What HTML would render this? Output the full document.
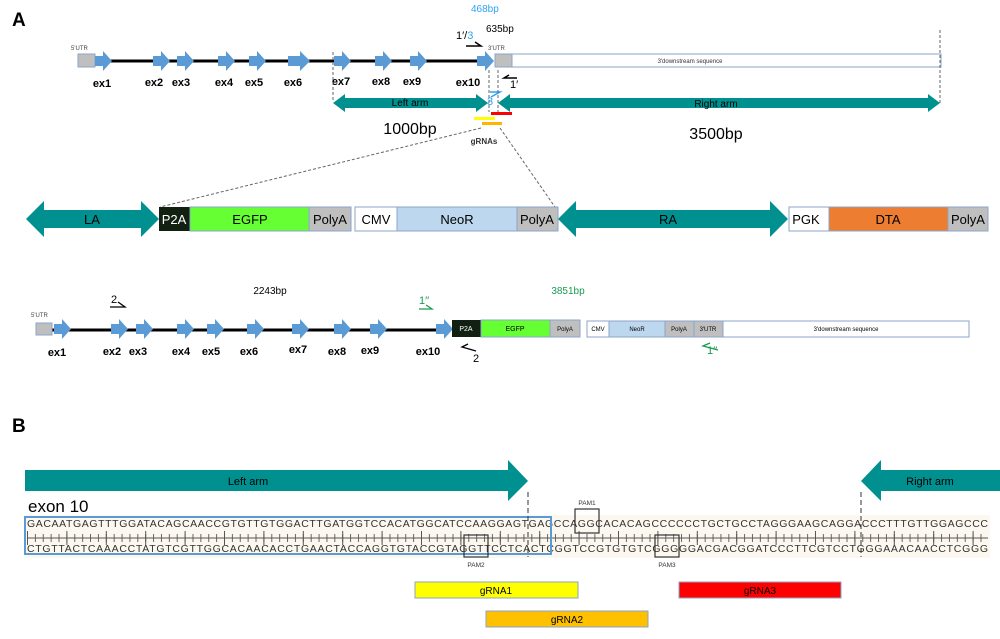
<!DOCTYPE html>
<html><head><meta charset="utf-8"><style>
html,body{margin:0;padding:0;background:#fff;}
svg{display:block;font-family:"Liberation Sans",sans-serif;}
</style></head><body>
<svg width="1000" height="639" viewBox="0 0 1000 639" xmlns="http://www.w3.org/2000/svg">
<defs>
<polygon id="ex" points="0,-5 8,-5 8,-10 17,0 8,10 8,5 0,5" fill="#5b9bd5"/>
<pattern id="tk" x="27" y="0" width="7.88" height="10" patternUnits="userSpaceOnUse"><rect x="0" y="0" width="1" height="10" fill="#666"/></pattern>
<pattern id="tk2" x="27" y="0" width="39.4" height="14" patternUnits="userSpaceOnUse"><rect x="0" y="0" width="1" height="14" fill="#555"/></pattern>
</defs>

<!-- A -->
<text x="12" y="26" font-size="19" font-weight="bold">A</text>
<text x="471" y="12" font-size="10" fill="#2ea3f2">468bp</text>
<text x="486" y="32" font-size="10">635bp</text>
<text x="456" y="39" font-size="11">1′/<tspan fill="#2ea3f2">3</tspan></text>
<polyline points="466,46 481,46 475,42" fill="none" stroke="#000" stroke-width="1.5"/>
<text x="488" y="50" font-size="6" fill="#444">3'UTR</text>
<text x="71" y="50" font-size="6" fill="#444">5'UTR</text>
<line x1="93" y1="61" x2="480" y2="61" stroke="#000" stroke-width="3"/>
<rect x="78" y="54" width="17" height="13" fill="#bfbfbf" stroke="#8aa6c8"/>
<use href="#ex" x="95" y="61"/>
<use href="#ex" x="153" y="61"/>
<use href="#ex" x="177" y="61"/>
<use href="#ex" x="218" y="61"/>
<use href="#ex" x="249" y="61"/>
<polygon points="288,56 300,56 300,51 310,61 300,71 300,66 288,66" fill="#5b9bd5"/>
<use href="#ex" x="334" y="61"/>
<use href="#ex" x="375" y="61"/>
<use href="#ex" x="410" y="61"/>
<use href="#ex" x="477" y="61"/>
<rect x="495" y="54" width="17" height="13" fill="#bfbfbf" stroke="#8aa6c8"/>
<rect x="512" y="54" width="429" height="13" fill="#fff" stroke="#8aa6c8"/>
<text x="690" y="63" font-size="6" text-anchor="middle" fill="#333">3'downstream sequence</text>
<g font-size="11" font-weight="bold" text-anchor="middle">
<text x="102" y="87">ex1</text><text x="154" y="86">ex2</text><text x="181" y="86">ex3</text>
<text x="224" y="86">ex4</text><text x="254" y="86">ex5</text><text x="293" y="86">ex6</text>
<text x="341" y="85">ex7</text><text x="381" y="85">ex8</text><text x="412" y="85">ex9</text>
<text x="468" y="86">ex10</text></g>
<polyline points="517,78 504,78 509,75" fill="none" stroke="#000" stroke-width="1.5"/>
<text x="510" y="88" font-size="11">1′</text>
<polyline points="490,92 500,92 491,97" fill="none" stroke="#2ea3f2" stroke-width="1.5"/>
<text x="487" y="105" font-size="11" fill="#2ea3f2">3</text>
<g stroke="#666" stroke-dasharray="3,2" stroke-width="1">
<line x1="333" y1="52" x2="333" y2="102"/><line x1="489" y1="70" x2="489" y2="112"/>
<line x1="498" y1="70" x2="498" y2="112"/><line x1="940" y1="30" x2="940" y2="103"/>
<line x1="481" y1="128" x2="160" y2="207"/><line x1="500" y1="128" x2="555" y2="207"/>
</g>
<polygon points="333,103 345,94 345,98 476,98 476,94 488,103 476,112 476,108 345,108 345,112" fill="#009090"/>
<text x="410" y="106" font-size="10" text-anchor="middle">Left arm</text>
<polygon points="498,103 510,94 510,98 928,98 928,94 940,103 928,112 928,108 510,108 510,112" fill="#009090"/>
<text x="716" y="107" font-size="10" text-anchor="middle">Right arm</text>
<text x="410" y="134" font-size="16" text-anchor="middle">1000bp</text>
<text x="716" y="139" font-size="16" text-anchor="middle">3500bp</text>
<rect x="491" y="112" width="21" height="3" fill="#f00"/>
<rect x="474" y="117" width="21" height="3" fill="#ff0"/>
<rect x="482" y="122" width="20" height="3" fill="#ffb400"/>
<text x="484" y="144" font-size="8" font-weight="bold" text-anchor="middle" fill="#333">gRNAs</text>

<!-- cassette -->
<polygon points="26,219 44,201 44,210 141,210 141,201 159,219 141,237 141,228 44,228 44,237" fill="#009090"/>
<text x="92" y="224" font-size="13" text-anchor="middle">LA</text>
<rect x="159" y="207" width="31" height="24" fill="#122012"/>
<text x="174" y="224" font-size="13" fill="#fff" text-anchor="middle">P2A</text>
<rect x="190" y="207" width="119" height="24" fill="#66ff33" stroke="#8aa6c8"/>
<text x="250" y="224" font-size="13" text-anchor="middle">EGFP</text>
<rect x="309" y="207" width="42" height="24" fill="#bfbfbf" stroke="#8aa6c8"/>
<text x="330" y="224" font-size="13" text-anchor="middle">PolyA</text>
<rect x="355" y="207" width="42" height="24" fill="#fff" stroke="#8aa6c8"/>
<text x="376" y="224" font-size="13" text-anchor="middle">CMV</text>
<rect x="397" y="207" width="120" height="24" fill="#bdd7ee" stroke="#8aa6c8"/>
<text x="457" y="224" font-size="13" text-anchor="middle">NeoR</text>
<rect x="517" y="207" width="41" height="24" fill="#bfbfbf" stroke="#8aa6c8"/>
<text x="537" y="224" font-size="13" text-anchor="middle">PolyA</text>
<polygon points="558,219 576,201 576,210 770,210 770,201 788,219 770,237 770,228 576,228 576,237" fill="#009090"/>
<text x="668" y="224" font-size="13" text-anchor="middle">RA</text>
<rect x="789" y="207" width="40" height="24" fill="#fff" stroke="#8aa6c8"/>
<text x="806" y="224" font-size="13" text-anchor="middle">PGK</text>
<rect x="829" y="207" width="119" height="24" fill="#ed7d31" stroke="#8aa6c8"/>
<text x="888" y="224" font-size="13" text-anchor="middle">DTA</text>
<rect x="948" y="207" width="40" height="24" fill="#bfbfbf" stroke="#8aa6c8"/>
<text x="968" y="224" font-size="13" text-anchor="middle">PolyA</text>

<!-- third row -->
<text x="270" y="294" font-size="10" text-anchor="middle">2243bp</text>
<text x="568" y="294" font-size="10" text-anchor="middle" fill="#1a9a50">3851bp</text>
<text x="111" y="303" font-size="11">2</text>
<polyline points="110,307 125,307 118,302" fill="none" stroke="#000" stroke-width="1.3"/>
<text x="419" y="304" font-size="11" fill="#1a9a50">1′′</text>
<polyline points="419,309 432,309 426,305" fill="none" stroke="#1a9a50" stroke-width="1.3"/>
<text x="31" y="317" font-size="6" fill="#444">5'UTR</text>
<line x1="52" y1="330" x2="440" y2="330" stroke="#000" stroke-width="3"/>
<rect x="36" y="323" width="16" height="12" fill="#bfbfbf" stroke="#8aa6c8"/>
<g>
<use href="#ex" x="54" y="329"/><use href="#ex" x="111" y="329"/><use href="#ex" x="136" y="329"/>
<use href="#ex" x="177" y="329"/><use href="#ex" x="207" y="329"/><use href="#ex" x="247" y="329"/>
<use href="#ex" x="292" y="329"/><use href="#ex" x="334" y="329"/><use href="#ex" x="370" y="329"/>
<use href="#ex" x="436" y="329"/></g>
<g font-size="11" font-weight="bold" text-anchor="middle">
<text x="57" y="356">ex1</text><text x="112" y="355">ex2</text><text x="138" y="355">ex3</text>
<text x="181" y="355">ex4</text><text x="211" y="355">ex5</text><text x="249" y="355">ex6</text>
<text x="298" y="353">ex7</text><text x="337" y="355">ex8</text><text x="370" y="354">ex9</text>
<text x="428" y="355">ex10</text></g>
<rect x="452" y="320" width="29" height="17" fill="#122012"/>
<text x="466" y="331" font-size="7" fill="#fff" text-anchor="middle">P2A</text>
<rect x="481" y="320" width="69" height="17" fill="#66ff33" stroke="#8aa6c8"/>
<text x="515" y="331" font-size="7" text-anchor="middle">EGFP</text>
<rect x="550" y="320" width="30" height="17" fill="#bfbfbf" stroke="#8aa6c8"/>
<text x="565" y="331" font-size="6" text-anchor="middle">PolyA</text>
<rect x="587" y="321" width="22" height="16" fill="#fff" stroke="#8aa6c8"/>
<text x="598" y="331" font-size="6" text-anchor="middle">CMV</text>
<rect x="609" y="321" width="56" height="16" fill="#bdd7ee" stroke="#8aa6c8"/>
<text x="637" y="331" font-size="6" text-anchor="middle">NeoR</text>
<rect x="665" y="321" width="29" height="16" fill="#bfbfbf" stroke="#8aa6c8"/>
<text x="679" y="331" font-size="6" text-anchor="middle">PolyA</text>
<rect x="694" y="321" width="29" height="16" fill="#bfbfbf" stroke="#8aa6c8"/>
<text x="708" y="331" font-size="6" text-anchor="middle">3'UTR</text>
<rect x="723" y="321" width="246" height="16" fill="#fff" stroke="#8aa6c8"/>
<text x="846" y="331" font-size="6" text-anchor="middle">3'downstream sequence</text>
<polyline points="476,351 462,347 468,344" fill="none" stroke="#000" stroke-width="1.3"/>
<text x="473" y="362" font-size="11">2</text>
<polyline points="718,350 703,346 710,343" fill="none" stroke="#1a9a50" stroke-width="1.3"/>
<text x="707" y="354" font-size="11" fill="#1a9a50">1′′</text>

<!-- B -->
<text x="12" y="432" font-size="19" font-weight="bold">B</text>
<polygon points="25,470 508,470 508,460 528,481 508,501 508,491 25,491" fill="#009090"/>
<text x="248" y="485" font-size="11" text-anchor="middle">Left arm</text>
<polygon points="1000,470 881,470 881,460 861,481 881,501 881,491 1000,491" fill="#009090"/>
<text x="930" y="485" font-size="11" text-anchor="middle">Right arm</text>
<text x="28" y="512" font-size="17">exon 10</text>
<rect x="25" y="515" width="965" height="43" fill="#fdf8ef"/>
<rect x="27" y="534" width="961" height="8" fill="url(#tk)"/>
<rect x="27" y="531" width="961" height="14" fill="url(#tk2)"/>
<line x1="27" y1="538" x2="988" y2="538" stroke="#555" stroke-width="1"/>
<g font-size="10.5" fill="#333" font-family="Liberation Sans,sans-serif">
<text x="27" y="527" textLength="961" lengthAdjust="spacing">GACAATGAGTTTGGATACAGCAACCGTGTTGTGGACTTGATGGTCCACATGGCATCCAAGGAGTGAGCCAGGCACACAGCCCCCCTGCTGCCTAGGGAAGCAGGACCCTTTGTTGGAGCCC</text>
<text x="27" y="552" textLength="961" lengthAdjust="spacing">CTGTTACTCAAACCTATGTCGTTGGCACAACACCTGAACTACCAGGTGTACCGTAGGTTCCTCACTCGGTCCGTGTGTCGGGGGACGACGGATCCCTTCGTCCTGGGAAACAACCTCGGG</text>
</g>
<rect x="25" y="517" width="526" height="37" fill="none" stroke="#5b9bd5" stroke-width="2"/>
<g stroke="#333" stroke-dasharray="5,3" stroke-width="1">
<line x1="528" y1="492" x2="528" y2="557"/><line x1="861" y1="492" x2="861" y2="557"/></g>
<g fill="none" stroke="#333" stroke-width="1.2">
<rect x="575" y="509" width="24" height="24"/><rect x="464" y="535" width="24" height="22"/><rect x="655" y="535" width="24" height="22"/></g>
<g font-size="6.5" text-anchor="middle" fill="#333">
<text x="587" y="505">PAM1</text><text x="476" y="567">PAM2</text><text x="667" y="567">PAM3</text></g>
<rect x="415" y="582" width="163" height="16" fill="#ff0" stroke="#8aa6c8"/>
<text x="496" y="594" font-size="10" text-anchor="middle">gRNA1</text>
<rect x="486" y="611" width="162" height="16" fill="#ffc000" stroke="#8aa6c8"/>
<text x="567" y="623" font-size="10" text-anchor="middle">gRNA2</text>
<rect x="679" y="582" width="162" height="16" fill="#f00" stroke="#8aa6c8"/>
<text x="760" y="594" font-size="10" text-anchor="middle">gRNA3</text>
</svg>
</body></html>
